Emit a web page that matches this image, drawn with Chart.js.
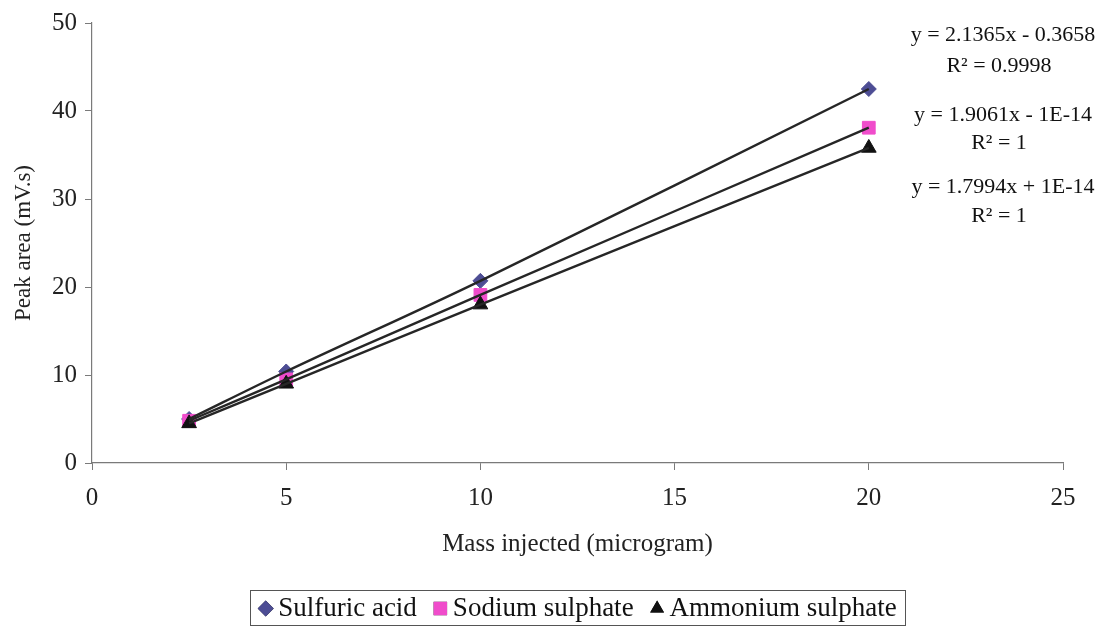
<!DOCTYPE html>
<html>
<head>
<meta charset="utf-8">
<script src="https://cdn.jsdelivr.net/npm/chart.js@4.4.0/dist/chart.umd.min.js"></script>
<style>
  html, body { margin: 0; padding: 0; background: #fff; }
  #wrap { width: 1096px; height: 628px; }
</style>
</head>
<body>
<div id="wrap"><canvas id="c" width="1096" height="628"></canvas></div>
<script>
// Calibration data: peak area versus injected mass
const massInjected = [2.5, 5, 10, 20];
const sulfuricAcid = [5.0, 10.4, 20.7, 42.5];
const sodiumSulphate = [4.8, 9.5, 19.1, 38.1];
const ammoniumSulphate = [4.5, 9.0, 18.0, 35.8];

const seriesNames = ['Sulfuric acid', 'Sodium sulphate', 'Ammonium sulphate'];
const xTicks = [0, 5, 10, 15, 20, 25];
const yTicks = [0, 10, 20, 30, 40, 50];

// Regression labels shown beside the lines
const trendLabels = [
  ['y = 2.1365x - 0.3658', 'R² = 0.9998'],
  ['y = 1.9061x - 1E-14', 'R² = 1'],
  ['y = 1.7994x + 1E-14', 'R² = 1']
];

const SERIF = "'Liberation Serif', 'DejaVu Serif', serif";
const toPoints = ys => massInjected.map((x, i) => ({ x: x, y: ys[i] }));

const markerStyle = [
  { style: 'rectRot', color: '#4d4d94', radius: 7.5 },
  { style: 'rect', color: '#f04ccb', radius: 9 },
  { style: 'triangle', color: '#111111', radius: 8.5 }
];
const values = [sulfuricAcid, sodiumSulphate, ammoniumSulphate];

const datasets = [];
// marker datasets (drawn beneath the lines)
values.forEach((v, i) => {
  datasets.push({
    label: seriesNames[i],
    data: toPoints(v),
    showLine: false,
    pointStyle: markerStyle[i].style,
    pointRadius: markerStyle[i].radius,
    pointBackgroundColor: markerStyle[i].color,
    pointBorderColor: markerStyle[i].color,
    pointBorderWidth: 1,
    backgroundColor: markerStyle[i].color,
    borderColor: markerStyle[i].color,
    order: 3 - i
  });
});
// smoothed connecting lines
values.forEach((v, i) => {
  datasets.push({
    label: seriesNames[i] + ' line',
    data: toPoints(v),
    showLine: true,
    borderColor: '#262626',
    borderWidth: 2.4,
    tension: 0.35,
    pointRadius: 0,
    fill: false,
    order: 0
  });
});

// Boxed legend centred under the plot area
const boxedLegend = {
  id: 'boxedLegend',
  afterDraw(chart) {
    const ctx = chart.ctx;
    const area = chart.chartArea;
    const font = '27px ' + SERIF;
    const markerW = 15, markerGap = 5, itemGap = 16, padX = 8;
    ctx.save();
    ctx.font = font;
    const widths = seriesNames.map(n => ctx.measureText(n).width);
    const total = widths.reduce((a, w) => a + markerW + markerGap + w, 0) + itemGap * (seriesNames.length - 1);
    const left = (area.left + area.right) / 2 - total / 2 - padX;
    const top = 590, bottom = 625;
    const cy = (top + bottom) / 2 + 1;
    ctx.strokeStyle = '#555';
    ctx.lineWidth = 1;
    ctx.strokeRect(Math.round(left) + 0.5, top + 0.5, Math.round(total + 2 * padX), bottom - top);
    let x = left + padX;
    seriesNames.forEach((name, i) => {
      const m = markerStyle[i];
      Chart.helpers.drawPoint(ctx, {
        pointStyle: m.style,
        radius: m.style === 'rect' ? 9.5 : 8,
        rotation: 0,
        borderWidth: 0
      }, x + markerW / 2, cy);
      ctx.fillStyle = m.color;
      ctx.fill();
      x += markerW + markerGap;
      ctx.fillStyle = '#111';
      ctx.textAlign = 'left';
      ctx.textBaseline = 'middle';
      ctx.fillText(name, x, cy);
      x += widths[i] + itemGap;
    });
    ctx.restore();
  }
};

const trendText = {
  id: 'trendText',
  afterDraw(chart) {
    const ctx = chart.ctx;
    const cx = chart.chartArea.right - 62;
    const rows = [[35, 66], [115, 143], [187, 216]];
    ctx.save();
    ctx.fillStyle = '#111';
    ctx.font = '22px ' + SERIF;
    ctx.textAlign = 'center';
    ctx.textBaseline = 'middle';
    trendLabels.forEach((pair, i) => {
      ctx.fillText(pair[0], cx + 2, rows[i][0]);
      ctx.fillText(pair[1], cx - 2, rows[i][1]);
    });
    ctx.restore();
  }
};

new Chart(document.getElementById('c'), {
  type: 'scatter',
  data: { datasets: datasets },
  plugins: [boxedLegend, trendText],
  options: {
    responsive: false,
    animation: false,
    layout: { padding: { left: 0, right: 33, top: 23, bottom: 47 } },
    plugins: {
      tooltip: { enabled: false },
      legend: { display: false }
    },
    scales: {
      x: {
        type: 'linear',
        min: 0, max: 25,
        afterBuildTicks: s => { s.ticks = xTicks.map(v => ({ value: v })); },
        afterFit: s => { s.height = 118; },
        ticks: { color: '#222', padding: 13, font: { family: SERIF, size: 25 } },
        grid: { drawOnChartArea: false, drawTicks: true, tickLength: 7, color: '#7a7a7a' },
        border: { display: true, color: '#7a7a7a', width: 1.2 },
        title: {
          display: true,
          text: 'Mass injected (microgram)',
          color: '#222',
          padding: { top: 0, bottom: 22 },
          font: { family: SERIF, size: 25 }
        }
      },
      y: {
        type: 'linear',
        min: 0, max: 50,
        afterBuildTicks: s => { s.ticks = yTicks.map(v => ({ value: v })); },
        afterFit: s => { s.width = 92; },
        ticks: { color: '#222', padding: 8, font: { family: SERIF, size: 25 } },
        grid: { drawOnChartArea: false, drawTicks: true, tickLength: 7, color: '#7a7a7a' },
        border: { display: true, color: '#7a7a7a', width: 1.2 },
        title: {
          display: true,
          text: 'Peak area (mV.s)',
          color: '#222',
          padding: { top: 10, bottom: 0 },
          font: { family: SERIF, size: 23 }
        }
      }
    }
  }
});
</script>
</body>
</html>
